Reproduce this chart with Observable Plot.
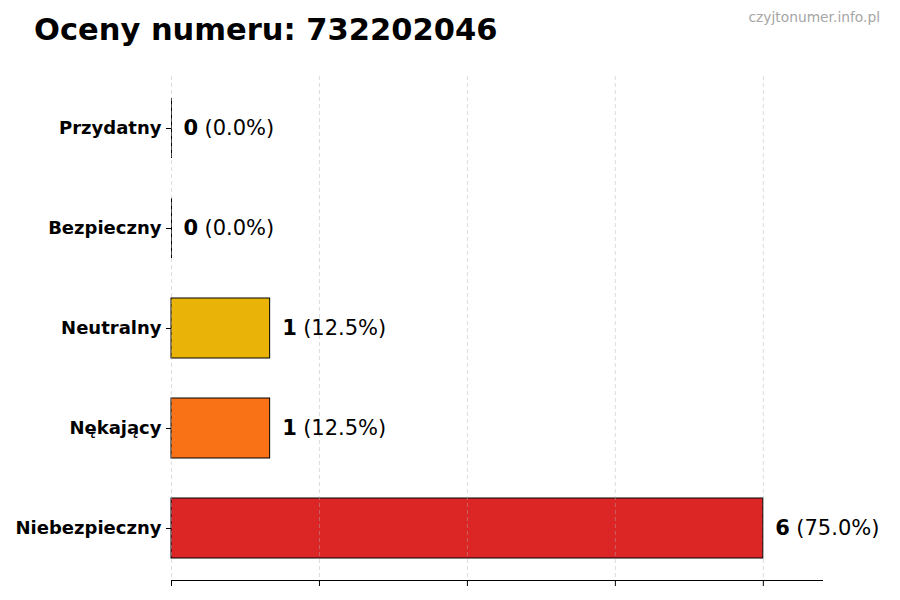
<!DOCTYPE html>
<html>
<head>
<meta charset="utf-8">
<script src="https://cdn.jsdelivr.net/npm/d3@7"></script>
<script src="https://cdn.jsdelivr.net/npm/@observablehq/plot@0.6"></script>
<style>
  html, body { margin: 0; padding: 0; background: #fff; }
  body { width: 900px; height: 600px; overflow: hidden; font-family: "DejaVu Sans", sans-serif; }
  #head { position: relative; width: 900px; height: 60px; }
  #title { position: absolute; left: 34px; top: 12px; font-size: 30.5px; font-weight: bold; color: #000; white-space: nowrap; }
  #wm { position: absolute; right: 20px; top: 9px; font-size: 13.8px; color: #a6a6a6; white-space: nowrap; }
  #chart svg { display: block; }
</style>
</head>
<body>
<div id="head">
  <div id="title">Oceny numeru: 732202046</div>
  <div id="wm">czyjtonumer.info.pl</div>
</div>
<div id="chart"></div>
<script>
const categories = ["Przydatny", "Bezpieczny", "Neutralny", "Nękający", "Niebezpieczny"];
const counts = [0, 0, 1, 1, 6];
const colors = ["#22C55E", "#3B82F6", "#EAB308", "#F97316", "#DC2626"];
const xTicks = [0, 1.5, 3, 4.5, 6];

const total = d3.sum(counts);
const data = categories.map((c, i) => ({
  cat: c,
  n: counts[i],
  color: colors[i],
  pct: "(" + (counts[i] / total * 100).toFixed(1) + "%)"
}));
const xMax = d3.max(counts) * 1.1;

const plot = Plot.plot({
  width: 900,
  height: 540,
  marginLeft: 171,
  marginRight: 78,
  marginTop: 16,
  marginBottom: 20,
  style: { fontFamily: "DejaVu Sans, sans-serif", background: "#fff", overflow: "visible" },
  x: { domain: [0, xMax], axis: null, label: null },
  y: { domain: categories, axis: null, label: null, paddingInner: 0.4, paddingOuter: 0.2 },
  marks: [
    Plot.barX(data, { x: "n", y: "cat", fill: "color", stroke: "#000", strokeWidth: 1 }),
    Plot.tickX(data.filter(d => d.n === 0), { x: "n", y: "cat", stroke: "#000", strokeWidth: 1 }),
    Plot.gridX(xTicks, { stroke: "#b0b0b0", strokeOpacity: 0.55, strokeDasharray: "4,3", strokeWidth: 0.8 }),
    Plot.frame({ anchor: "bottom", stroke: "#000", strokeWidth: 1 }),
    Plot.axisX({ ticks: xTicks, tickSize: 6, tickFormat: () => "", label: null, stroke: "#000", strokeOpacity: 1 }),
    Plot.axisY({ tickSize: 5, tickPadding: 5, label: null, fontSize: 18, fontWeight: "bold", stroke: "#000", fill: "#000" }),
    Plot.text(data, { x: "n", y: "cat", text: d => String(d.n), dx: 12, textAnchor: "start", fontSize: 21, fontWeight: "bold", fill: "#000" }),
    Plot.text(data, { x: "n", y: "cat", text: "pct", dx: 33, textAnchor: "start", fontSize: 21, fill: "#000" })
  ]
});
document.getElementById("chart").appendChild(plot);
</script>
</body>
</html>
